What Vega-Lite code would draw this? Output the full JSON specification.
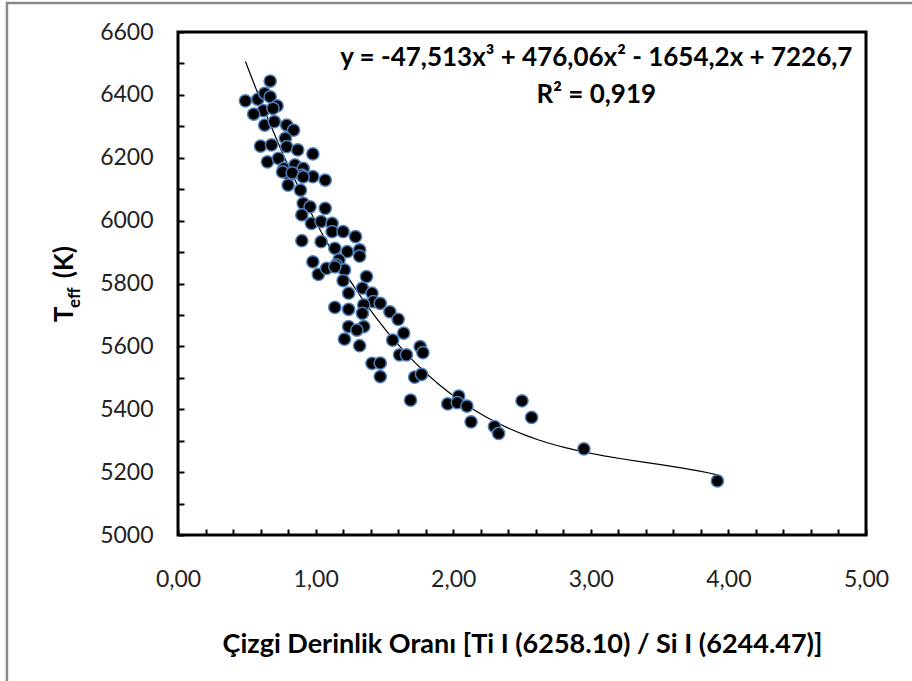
{
  "$schema": "https://vega.github.io/schema/vega-lite/v6.json",
  "width": 688,
  "height": 503,
  "autosize": {"type": "none"},
  "padding": {"left": 178, "top": 32, "right": 46, "bottom": 146},
  "background": "white",
  "config": {
    "view": {"stroke": "black", "strokeWidth": 3},
    "font": "Lato"
  },
  "resolve": {"axis": {"x": "independent", "y": "independent"}},
  "datasets": {
    "stars": [
      {"x": 0.67, "T": 6444}, {"x": 0.49, "T": 6381}, {"x": 0.58, "T": 6386}, {"x": 0.63, "T": 6405},
      {"x": 0.67, "T": 6394}, {"x": 0.72, "T": 6365}, {"x": 0.62, "T": 6350}, {"x": 0.55, "T": 6339},
      {"x": 0.69, "T": 6357}, {"x": 0.63, "T": 6304}, {"x": 0.70, "T": 6315}, {"x": 0.79, "T": 6304},
      {"x": 0.84, "T": 6288}, {"x": 0.78, "T": 6262}, {"x": 0.60, "T": 6237}, {"x": 0.68, "T": 6241},
      {"x": 0.79, "T": 6235}, {"x": 0.87, "T": 6225}, {"x": 0.98, "T": 6212}, {"x": 0.65, "T": 6187},
      {"x": 0.73, "T": 6198}, {"x": 0.77, "T": 6166}, {"x": 0.85, "T": 6177}, {"x": 0.91, "T": 6166},
      {"x": 0.81, "T": 6145}, {"x": 0.90, "T": 6145}, {"x": 0.98, "T": 6140}, {"x": 1.07, "T": 6129},
      {"x": 0.76, "T": 6155}, {"x": 0.83, "T": 6152}, {"x": 0.91, "T": 6139}, {"x": 0.80, "T": 6113},
      {"x": 0.89, "T": 6097}, {"x": 0.91, "T": 6055}, {"x": 0.96, "T": 6044}, {"x": 1.07, "T": 6039},
      {"x": 0.90, "T": 6018}, {"x": 0.97, "T": 5991}, {"x": 1.04, "T": 5997}, {"x": 1.12, "T": 5991},
      {"x": 1.12, "T": 5965}, {"x": 1.20, "T": 5965}, {"x": 1.29, "T": 5949}, {"x": 0.90, "T": 5936},
      {"x": 1.04, "T": 5933}, {"x": 1.14, "T": 5912}, {"x": 1.23, "T": 5901}, {"x": 1.32, "T": 5907},
      {"x": 1.32, "T": 5887}, {"x": 1.17, "T": 5875}, {"x": 1.15, "T": 5859}, {"x": 1.21, "T": 5843},
      {"x": 0.98, "T": 5869}, {"x": 1.02, "T": 5829}, {"x": 1.08, "T": 5848}, {"x": 1.14, "T": 5853},
      {"x": 1.37, "T": 5822}, {"x": 1.20, "T": 5809}, {"x": 1.24, "T": 5769}, {"x": 1.34, "T": 5785},
      {"x": 1.41, "T": 5769}, {"x": 1.42, "T": 5742}, {"x": 1.35, "T": 5732}, {"x": 1.14, "T": 5724},
      {"x": 1.24, "T": 5718}, {"x": 1.34, "T": 5705}, {"x": 1.54, "T": 5710}, {"x": 1.60, "T": 5686},
      {"x": 1.24, "T": 5663}, {"x": 1.35, "T": 5663}, {"x": 1.30, "T": 5652}, {"x": 1.21, "T": 5623},
      {"x": 1.32, "T": 5602}, {"x": 1.64, "T": 5642}, {"x": 1.56, "T": 5620}, {"x": 1.61, "T": 5573},
      {"x": 1.66, "T": 5573}, {"x": 1.41, "T": 5546}, {"x": 1.76, "T": 5599}, {"x": 1.47, "T": 5737},
      {"x": 1.78, "T": 5580}, {"x": 1.47, "T": 5547}, {"x": 1.47, "T": 5504}, {"x": 1.72, "T": 5502},
      {"x": 1.77, "T": 5511}, {"x": 1.69, "T": 5429}, {"x": 2.04, "T": 5442}, {"x": 1.96, "T": 5417},
      {"x": 2.03, "T": 5421}, {"x": 2.10, "T": 5410}, {"x": 2.13, "T": 5360}, {"x": 2.30, "T": 5345},
      {"x": 2.33, "T": 5323}, {"x": 2.50, "T": 5427}, {"x": 2.57, "T": 5374}, {"x": 2.95, "T": 5274},
      {"x": 3.92, "T": 5172}
    ]
  },
  "layer": [
    {
      "data": {"values": [{}]},
      "mark": {"type": "rect", "fill": null, "stroke": "#8a8a8a", "strokeWidth": 2.5, "clip": false},
      "encoding": {
        "x": {"datum": -1.243, "type": "quantitative", "axis": null, "scale": {"domain": [0, 5], "nice": false, "zero": false}},
        "x2": {"datum": 6.5},
        "y": {"datum": 6692, "type": "quantitative", "axis": null, "scale": {"domain": [5000, 6600], "nice": false, "zero": false}},
        "y2": {"datum": 4000}
      }
    },
    {
      "data": {"name": "stars"},
      "transform": [{"regression": "T", "on": "x", "method": "poly", "order": 3, "extent": [0.49, 3.92]}],
      "mark": {"type": "line", "color": "black", "strokeWidth": 1.2},
      "encoding": {
        "x": {
          "field": "x", "type": "quantitative",
          "axis": {
            "orient": "bottom", "title": null, "labels": false, "domain": false, "grid": false,
            "values": [0.2, 0.4, 0.6, 0.8, 1.2, 1.4, 1.6, 1.8, 2.2, 2.4, 2.6, 2.8, 3.2, 3.4, 3.6, 3.8, 4.2, 4.4, 4.6, 4.8],
            "tickSize": -6, "tickWidth": 2, "tickColor": "black"
          }
        },
        "y": {
          "field": "T", "type": "quantitative",
          "axis": {
            "orient": "left", "title": null, "labels": false, "domain": false, "grid": false,
            "values": [5100, 5300, 5500, 5700, 5900, 6100, 6300, 6500],
            "tickSize": -6, "tickWidth": 2, "tickColor": "black"
          }
        }
      }
    },
    {
      "data": {"name": "stars"},
      "mark": {"type": "circle", "size": 150, "fill": "black", "stroke": "#4f81bd", "strokeWidth": 1.5, "opacity": 1},
      "encoding": {
        "x": {
          "field": "x", "type": "quantitative",
          "scale": {"domain": [0, 5], "nice": false, "zero": false},
          "axis": {
            "orient": "bottom",
            "title": "Çizgi Derinlik Oranı [Ti I (6258.10) / Si I (6244.47)]",
            "values": [0, 1, 2, 3, 4, 5],
            "format": ".2f",
            "labelExpr": "replace(datum.label, '.', ',')",
            "domain": false, "grid": false,
            "tickSize": -6, "tickWidth": 2, "tickColor": "black",
            "labelFont": "Lato", "labelFontSize": 23, "labelColor": "#222222",
            "labelPadding": 39, "labelFlush": false, "labelOverlap": false, "labelBound": false,
            "titleFont": "Lato", "titleFontSize": 27, "titleFontWeight": "bold", "titleColor": "black",
            "titlePadding": 40
          }
        },
        "y": {
          "field": "T", "type": "quantitative",
          "scale": {"domain": [5000, 6600], "nice": false, "zero": false},
          "axis": {
            "orient": "left",
            "title": null,
            "values": [5000, 5200, 5400, 5600, 5800, 6000, 6200, 6400, 6600],
            "format": "d",
            "domain": false, "grid": false,
            "tickSize": -6, "tickWidth": 2, "tickColor": "black",
            "labelFont": "Lato", "labelFontSize": 23, "labelColor": "#222222",
            "labelPadding": 31, "labelFlush": false, "labelOverlap": false, "labelBound": false
          }
        }
      }
    },
    {
      "data": {"values": [{}]},
      "mark": {"type": "text", "font": "Lato", "fontSize": 26, "fontWeight": "bold", "align": "center", "baseline": "middle", "color": "black"},
      "encoding": {
        "x": {"datum": 3.04, "type": "quantitative", "axis": null},
        "y": {"datum": 6517, "type": "quantitative", "axis": null},
        "text": {"value": "y = -47,513x³ + 476,06x² - 1654,2x + 7226,7"}
      }
    },
    {
      "data": {"values": [{}]},
      "mark": {"type": "text", "font": "Lato", "fontSize": 26, "fontWeight": "bold", "align": "center", "baseline": "middle", "color": "black"},
      "encoding": {
        "x": {"datum": 3.04, "type": "quantitative", "axis": null},
        "y": {"datum": 6400, "type": "quantitative", "axis": null},
        "text": {"value": "R² = 0,919"}
      }
    },
    {
      "data": {"values": [{}]},
      "mark": {"type": "text", "font": "Lato", "fontSize": 26, "fontWeight": "bold", "align": "left", "baseline": "alphabetic", "angle": 270, "color": "black"},
      "encoding": {
        "x": {"datum": -0.763, "type": "quantitative", "axis": null},
        "y": {"datum": 5677, "type": "quantitative", "axis": null},
        "text": {"value": "T"}
      }
    },
    {
      "data": {"values": [{}]},
      "mark": {"type": "text", "font": "Lato", "fontSize": 17, "fontWeight": "bold", "align": "left", "baseline": "alphabetic", "angle": 270, "color": "black"},
      "encoding": {
        "x": {"datum": -0.712, "type": "quantitative", "axis": null},
        "y": {"datum": 5722, "type": "quantitative", "axis": null},
        "text": {"value": "eff"}
      }
    },
    {
      "data": {"values": [{}]},
      "mark": {"type": "text", "font": "Lato", "fontSize": 26, "fontWeight": "bold", "align": "left", "baseline": "alphabetic", "angle": 270, "color": "black"},
      "encoding": {
        "x": {"datum": -0.763, "type": "quantitative", "axis": null},
        "y": {"datum": 5817, "type": "quantitative", "axis": null},
        "text": {"value": "(K)"}
      }
    }
  ]
}
